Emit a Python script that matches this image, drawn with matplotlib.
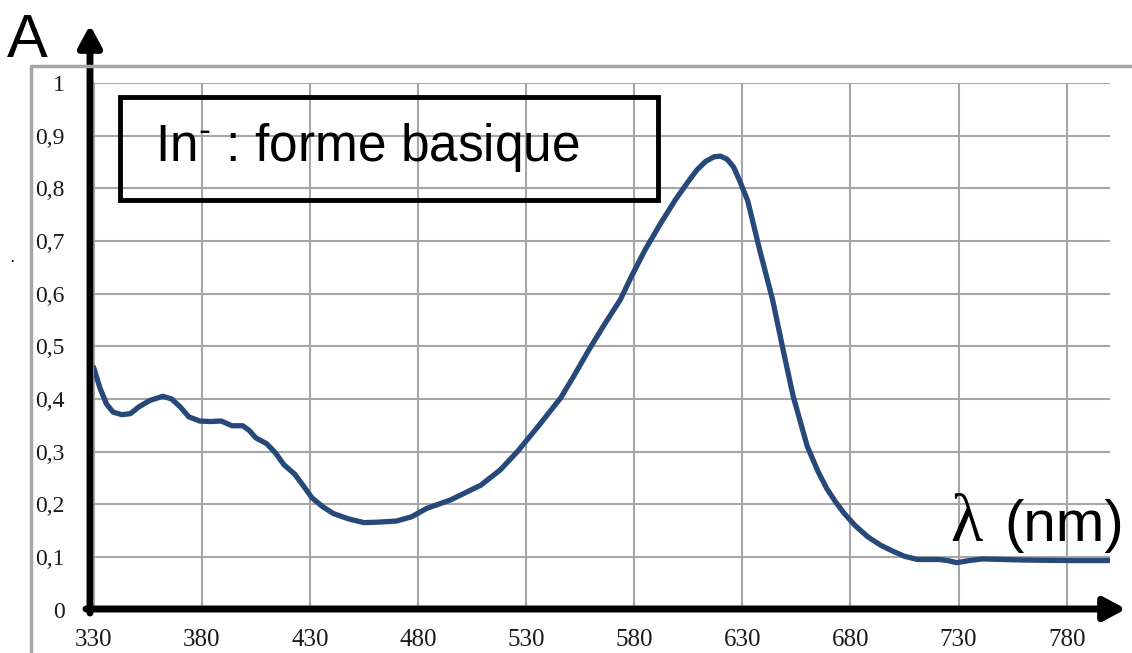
import numpy as np
import matplotlib
matplotlib.use('Agg')
import matplotlib.pyplot as plt
from matplotlib.patches import Rectangle
from matplotlib.lines import Line2D

plt.rcParams['mathtext.fontset'] = 'custom'
plt.rcParams['mathtext.rm'] = 'Liberation Sans'

# spectrum
wavelength = [330, 333, 336, 339, 343, 347, 351, 356, 362, 366, 370, 374, 379, 384, 389,
              394, 399, 402, 405, 410, 414, 418, 423, 427, 431, 436, 441, 448, 455, 462,
              470, 477, 484, 495, 509, 518, 526, 536, 546, 552, 559, 566, 573.5, 579, 585,
              592, 599, 605, 609, 613, 617, 620, 623, 626, 629, 632.5, 638, 644, 649, 653.5,
              660, 665, 669, 673, 677, 682, 688, 694, 700, 705, 711, 721, 725, 729, 735,
              741, 760, 780, 800]
absorbance = [0.46, 0.42, 0.39, 0.375, 0.37, 0.372, 0.385, 0.397, 0.405, 0.4, 0.385, 0.366,
              0.358, 0.357, 0.358, 0.349, 0.349, 0.34, 0.326, 0.315, 0.298, 0.275, 0.257,
              0.235, 0.212, 0.195, 0.182, 0.172, 0.165, 0.166, 0.168, 0.176, 0.192, 0.208,
              0.236, 0.265, 0.3, 0.35, 0.402, 0.443, 0.493, 0.54, 0.588, 0.635, 0.683,
              0.732, 0.778, 0.813, 0.835, 0.851, 0.86, 0.861, 0.855, 0.84, 0.812, 0.776,
              0.683, 0.588, 0.49, 0.405, 0.31, 0.262, 0.23, 0.205, 0.183, 0.16, 0.138,
              0.122, 0.11, 0.101, 0.095, 0.095, 0.093, 0.089, 0.093, 0.096, 0.094, 0.093,
              0.093]

x_ticks = [330, 380, 430, 480, 530, 580, 630, 680, 730, 780]
y_ticks = [0, 0.1, 0.2, 0.3, 0.4, 0.5, 0.6, 0.7, 0.8, 0.9, 1.0]
y_labels = ['0', '0,1', '0,2', '0,3', '0,4', '0,5', '0,6', '0,7', '0,8', '0,9', '1']

W, H = 1132, 653
fig = plt.figure(figsize=(W / 100, H / 100), dpi=100)
ax = fig.add_axes([93.6 / W, 43.5 / H, (1110 - 93.6) / W, 526.5 / H])

def fx(px):
    return px / W

def fy(py):
    return 1 - py / H

ax.set_xlim(330, 800)
ax.set_ylim(0, 1)
for s in ax.spines.values():
    s.set_visible(False)
ax.set_xticks(x_ticks)
ax.set_yticks(y_ticks)
ax.set_yticklabels(y_labels)
ax.grid(True, color='#a6a6a6', lw=1.5)
ax.tick_params(axis='x', length=0, pad=14, labelsize=18, labelcolor='#1a1a1a')
ax.tick_params(axis='y', length=4, width=1, color='#a6a6a6', pad=17, labelsize=17,
               labelcolor='#1a1a1a')
for lab in ax.get_xticklabels() + ax.get_yticklabels():
    lab.set_family('Liberation Serif')

ax.plot(wavelength, absorbance, color='#27497a', lw=3.8, solid_capstyle='round',
        solid_joinstyle='round', zorder=3)

# outer grey frame
fig.add_artist(Line2D([fx(31), fx(31), fx(W)], [fy(H), fy(66), fy(66)],
                      color='#a6a6a6', lw=2.5))

# axis arrows
ax.annotate('', xy=(90, H - 25), xytext=(90, H - 613), xycoords='figure pixels',
            textcoords='figure pixels',
            arrowprops=dict(arrowstyle='-|>,head_length=1.3,head_width=0.7', lw=5,
                            color='black', shrinkA=0, shrinkB=0))
ax.annotate('', xy=(1126, H - 609), xytext=(86, H - 609), xycoords='figure pixels',
            textcoords='figure pixels',
            arrowprops=dict(arrowstyle='-|>,head_length=1.3,head_width=0.7', lw=5,
                            color='black', shrinkA=0, shrinkB=0))

# legend-like box
fig.add_artist(Rectangle((fx(120), fy(200)), fx(538), 103 / H, fill=False,
                         edgecolor='black', lw=3.5, transform=fig.transFigure))
fig.text(fx(155), fy(148), 'In$^{\u2010}$ : forme basique', family='Liberation Sans',
         fontsize=37, va='center', ha='left')

fig.text(fx(7), fy(57), 'A', family='Liberation Sans', fontsize=44, va='baseline')
fig.text(fx(950), fy(541), 'λ', family='Liberation Serif', fontsize=48, va='baseline')
fig.text(fx(1004), fy(541), '(nm)', family='Liberation Sans', fontsize=42, va='baseline')
fig.text(fx(9), fy(258), '.', family='Liberation Sans', fontsize=14, va='center')

fig.savefig('out.png', dpi=100)
